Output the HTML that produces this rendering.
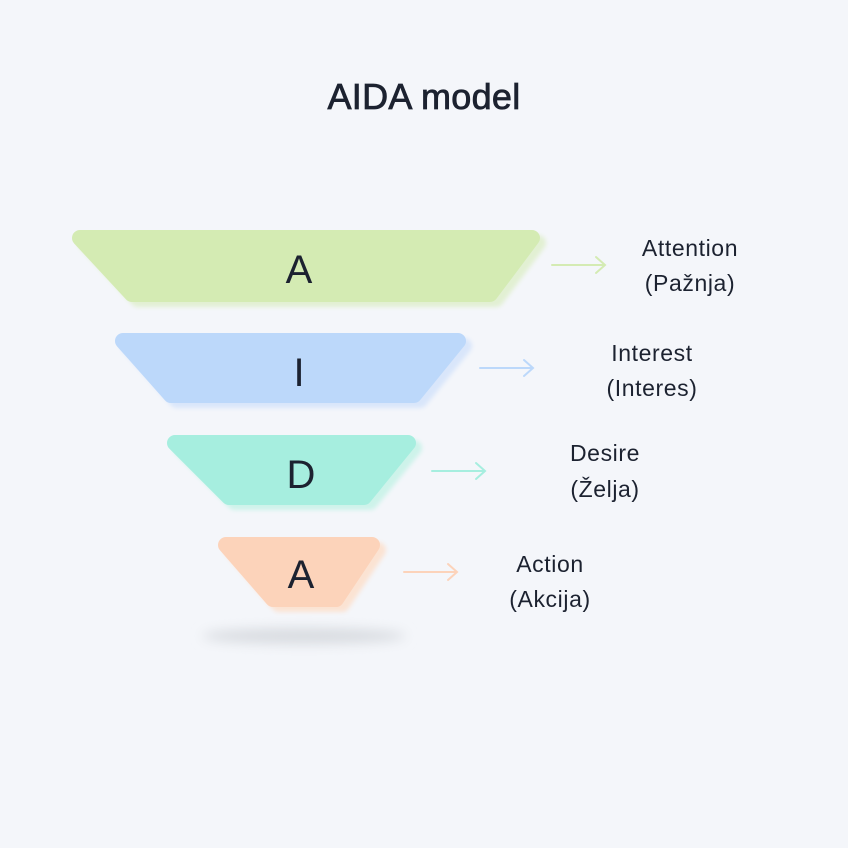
<!DOCTYPE html>
<html><head><meta charset="utf-8"><style>
body{margin:0;background:#f4f6fa;}
svg{display:block}
text{font-family:"Liberation Sans",sans-serif;fill:#1c2230}
</style></head><body>
<svg width="848" height="848" viewBox="0 0 848 848">
<defs>
<filter id="b" x="-20%" y="-200%" width="140%" height="500%"><feGaussianBlur stdDeviation="6"/></filter>
<filter id="s" x="-10%" y="-30%" width="120%" height="160%"><feGaussianBlur stdDeviation="2"/></filter>
</defs>
<rect width="848" height="848" fill="#f4f6fa"/>
<text x="424" y="109" font-size="36" text-anchor="middle" stroke="#1c2230" stroke-width="0.8" letter-spacing="0.3">AIDA model</text>
<ellipse cx="304" cy="636" rx="102" ry="8" fill="#d8dbe0" filter="url(#b)"/>
<g stroke-linejoin="round" stroke-width="16">
<g filter="url(#s)">
<polygon points="80,238 532,238 490,294 132,294" fill="#e2f0d3" stroke="#e2f0d3" transform="translate(6,5)"/>
<polygon points="123,341 458,341 414,395 171,395" fill="#d9e6fa" stroke="#d9e6fa" transform="translate(6,5)"/>
<polygon points="175,443 408,443 364,497 229,497" fill="#cdf3ea" stroke="#cdf3ea" transform="translate(6,5)"/>
<polygon points="226,545 372,545 336,599 273,599" fill="#fbe3d3" stroke="#fbe3d3" transform="translate(6,5)"/>
</g>
<polygon points="80,238 532,238 490,294 132,294" fill="#d4ebb3" stroke="#d4ebb3"/>
<polygon points="123,341 458,341 414,395 171,395" fill="#bcd8fa" stroke="#bcd8fa"/>
<polygon points="175,443 408,443 364,497 229,497" fill="#a6eedf" stroke="#a6eedf"/>
<polygon points="226,545 372,545 336,599 273,599" fill="#fcd3ba" stroke="#fcd3ba"/>
</g>
<text x="299" y="283" font-size="40" text-anchor="middle">A</text>
<text x="299" y="386" font-size="40" text-anchor="middle">I</text>
<text x="301" y="488" font-size="40" text-anchor="middle">D</text>
<text x="301" y="588" font-size="40" text-anchor="middle">A</text>
<g fill="none" stroke-width="2" stroke-linecap="round">
<path d="M552 265H604M596 257L605 265L596 273" stroke="#d4ebb3"/>
<path d="M480 368H532M524 360L533 368L524 376" stroke="#bcd8fa"/>
<path d="M432 471H484M476 463L485 471L476 479" stroke="#a6eedf"/>
<path d="M404 572H456M448 564L457 572L448 580" stroke="#fcd3ba"/>
</g>
<g font-size="23" text-anchor="middle" letter-spacing="0.6">
<text x="690" y="256">Attention</text><text x="690" y="291">(Pažnja)</text>
<text x="652" y="361">Interest</text><text x="652" y="396">(Interes)</text>
<text x="605" y="461">Desire</text><text x="605" y="497">(Želja)</text>
<text x="550" y="572">Action</text><text x="550" y="607">(Akcija)</text>
</g>
</svg>
</body></html>
